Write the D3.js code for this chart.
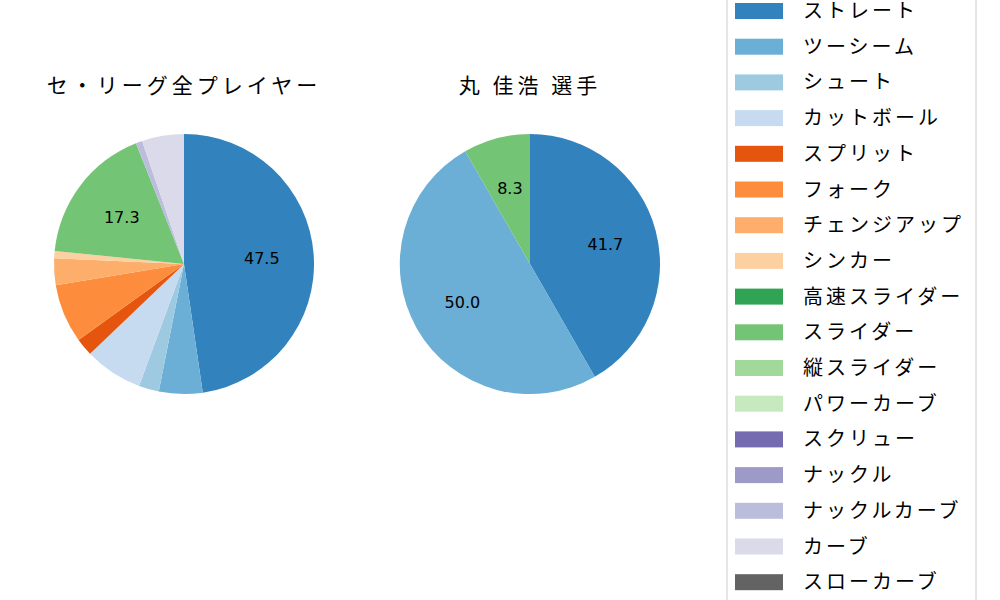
<!DOCTYPE html><html><head><meta charset="utf-8"><script src="https://cdn.jsdelivr.net/npm/d3@7"></script>
<style>body{margin:0;background:#fff}text{font-family:"Noto Sans CJK JP","DejaVu Sans",sans-serif}</style></head><body>
<svg id="c" width="1000" height="600"></svg>
<script>
const pitchTypes=["ストレート","ツーシーム","シュート","カットボール","スプリット","フォーク","チェンジアップ","シンカー","高速スライダー","スライダー","縦スライダー","パワーカーブ","スクリュー","ナックル","ナックルカーブ","カーブ","スローカーブ"];
const colors=["#3182bd","#6baed6","#9ecae1","#c6dbef","#e6550d","#fd8d3c","#fdae6b","#fdd0a2","#31a354","#74c476","#a1d99b","#c7e9c0","#756bb1","#9e9ac8","#bcbddc","#dadaeb","#636363"];
const leagueValues=[47.5,5.4,2.5,7.2,2.2,7.3,3.3,0.9,0,17.3,0,0,0,0,0.8,5.2,0];
const playerValues=[41.7,50.0,0,0,0,0,0,0,0,8.3,0,0,0,0,0,0,0];
const titles=["セ・リーグ全プレイヤー","丸 佳浩  選手"];
const svg=d3.select("#c");
const color=d3.scaleOrdinal(pitchTypes,colors);
function pie(vals,cx,title){
  const g=svg.append("g").attr("transform",`translate(${cx},264)`);
  const data=pitchTypes.map((k,i)=>({k,v:vals[i]}));
  const arcs=d3.pie().sort(null).value(d=>d.v)(data).filter(a=>a.data.v>0);
  const arc=d3.arc().innerRadius(0).outerRadius(130);
  const lab=d3.arc().innerRadius(78).outerRadius(78);
  g.selectAll("path").data(arcs).join("path").attr("d",arc).attr("fill",d=>color(d.data.k));
  g.selectAll("text.l").data(arcs.filter(a=>a.data.v>=8)).join("text").attr("class","l")
    .attr("transform",d=>`translate(${lab.centroid(d)})`).attr("text-anchor","middle").attr("dy","0.35em")
    .attr("font-size",16).style("font-family","DejaVu Sans").text(d=>d.data.v.toFixed(1));
  svg.append("text").attr("x",cx).attr("y",93).attr("text-anchor","middle").attr("font-size",21)
    .attr("letter-spacing",4).text(title);
}
pie(leagueValues,184,titles[0]);
pie(playerValues,530,titles[1]);
const lg=svg.append("g");
lg.append("rect").attr("x",727).attr("y",-8).attr("width",249).attr("height",620).attr("fill","#fff").attr("stroke","#ccc").attr("rx",4);
pitchTypes.forEach((k,i)=>{
  const y=10+i*35.7;
  lg.append("rect").attr("x",735).attr("y",y-7).attr("width",48).attr("height",16).attr("fill",color(k));
  lg.append("text").attr("x",803).attr("y",y+1).attr("dy","0.35em").attr("font-size",20)
    .attr("letter-spacing",3).text(k);
});
</script></body></html>
